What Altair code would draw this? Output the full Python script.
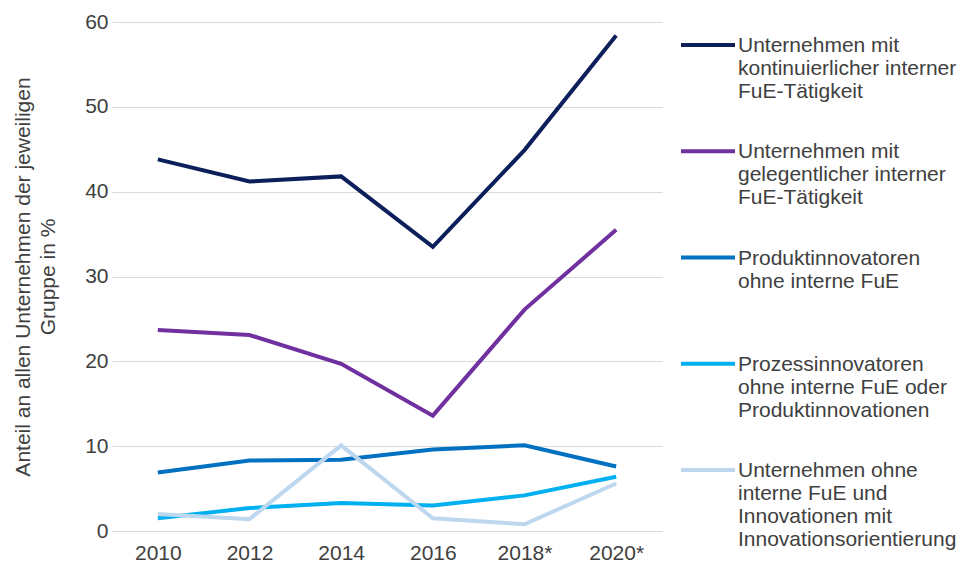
import altair as alt
import pandas as pd

years = ["2010", "2012", "2014", "2016", "2018*", "2020*"]

series_names = [
    "Unternehmen mit kontinuierlicher interner FuE-Tätigkeit",
    "Unternehmen mit gelegentlicher interner FuE-Tätigkeit",
    "Produktinnovatoren ohne interne FuE",
    "Prozessinnovatoren ohne interne FuE oder Produktinnovationen",
    "Unternehmen ohne interne FuE und Innovationen mit Innovationsorientierung",
]

legend_lines = [
    "Unternehmen mit\nkontinuierlicher interner\nFuE-Tätigkeit",
    "Unternehmen mit\ngelegentlicher interner\nFuE-Tätigkeit",
    "Produktinnovatoren\nohne interne FuE",
    "Prozessinnovatoren\nohne interne FuE oder\nProduktinnovationen",
    "Unternehmen ohne\ninterne FuE und\nInnovationen mit\nInnovationsorientierung",
]

kontinuierlich = [43.8, 41.2, 41.8, 33.5, 44.9, 58.4]
gelegentlich = [23.7, 23.1, 19.7, 13.6, 26.1, 35.5]
produkt = [6.9, 8.3, 8.4, 9.6, 10.1, 7.6]
prozess = [1.5, 2.7, 3.3, 3.0, 4.2, 6.4]
ohne = [2.0, 1.4, 10.1, 1.5, 0.8, 5.6]

colors = ["#0c1f5b", "#7030a0", "#0070c0", "#00b0f0", "#bdd7ee"]

all_values = [kontinuierlich, gelegentlich, produkt, prozess, ohne]

rows = []
for name, vals in zip(series_names, all_values):
    for yr, v in zip(years, vals):
        rows.append({"Jahr": yr, "Wert": v, "Gruppe": name})
df = pd.DataFrame(rows)

legend_df = pd.DataFrame({
    "idx": list(range(len(series_names))),
    "Gruppe": series_names,
    "text": legend_lines,
})

FONT = "Liberation Sans"
TXT = "#404040"
FS = 21

color_scale = alt.Scale(domain=series_names, range=colors)

main = alt.Chart(df).mark_line(strokeWidth=4).encode(
    x=alt.X("Jahr:O", sort=years,
            scale=alt.Scale(type="point", padding=0.5),
            axis=alt.Axis(title=None, labelAngle=0, ticks=False, domain=False,
                          labelFontSize=FS, labelColor=TXT, labelFont=FONT,
                          labelPadding=11)),
    y=alt.Y("Wert:Q", scale=alt.Scale(domain=[0, 60]),
            axis=alt.Axis(values=[0, 10, 20, 30, 40, 50, 60],
                          title=["Anteil an allen Unternehmen der jeweiligen", "Gruppe in %"],
                          titleFontSize=FS, titleFont=FONT, titleColor=TXT,
                          titleFontWeight="normal", titlePadding=26,
                          titleLineHeight=25,
                          labelFontSize=FS, labelColor=TXT, labelFont=FONT,
                          ticks=False, domain=False, labelPadding=4,
                          grid=True, gridColor="#d9d9d9", gridWidth=1)),
    color=alt.Color("Gruppe:N", scale=color_scale, legend=None),
    order=alt.Order("Jahr:O"),
).properties(width=550, height=509)

leg_y = alt.Y("idx:O", axis=None,
              scale=alt.Scale(type="point", range=[23, 448], padding=0))

leg_rule = alt.Chart(legend_df).mark_rule(strokeWidth=4).encode(
    x=alt.value(0), x2=alt.value(54), y=leg_y,
    color=alt.Color("Gruppe:N", scale=color_scale, legend=None),
)
leg_text = alt.Chart(legend_df).mark_text(
    align="left", baseline="alphabetic", dx=0, dy=7, lineBreak="\n",
    fontSize=21, font=FONT, color=TXT, lineHeight=23,
).encode(
    x=alt.value(57), y=leg_y, text="text:N",
)
legend = alt.layer(leg_rule, leg_text).properties(width=215, height=509)

chart = alt.hconcat(main, legend, spacing=17).properties(
    padding={"left": 4, "top": 3, "right": 0, "bottom": 0}
).configure_view(stroke=None)

chart.save("out.html", embed_options={"renderer": "svg", "actions": False})
